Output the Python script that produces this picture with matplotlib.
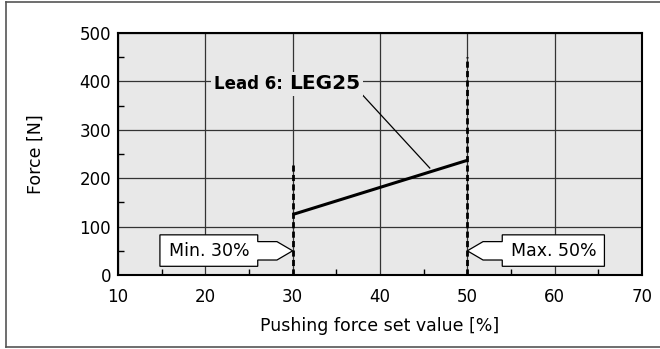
import matplotlib.pyplot as plt
from matplotlib.patches import Polygon
from matplotlib.lines import Line2D

plt.rcParams['font.family'] = ['DejaVu Sans']

# pushing force set value [%] vs force [N], lead 6 (LEG25)
set_value = [30, 50]
force = [125, 237]
min_pct = 30
max_pct = 50
min_top = 230
max_top = 450
x_ticks = [10, 20, 30, 40, 50, 60, 70]
y_ticks = [0, 100, 200, 300, 400, 500]

fig = plt.figure(figsize=(6.6, 3.49), dpi=100)
ax = fig.add_axes([0.1788, 0.212, 0.7939, 0.6934])
ax.set_facecolor('#e8e8e8')
ax.set_xlim(10, 70)
ax.set_ylim(0, 500)
ax.set_xticks(x_ticks)
ax.set_yticks(y_ticks)
ax.set_xticks(range(15, 70, 10), minor=True)
ax.set_yticks(range(50, 500, 100), minor=True)
ax.tick_params(which='major', length=0, labelsize=12)
ax.tick_params(axis='x', which='major', pad=9)
ax.tick_params(axis='y', which='major', pad=5)
ax.tick_params(which='minor', direction='in', length=4, width=1)
ax.grid(True, which='major', color='#333333', linewidth=0.9)
for s in ax.spines.values():
    s.set_linewidth(1.5)
ax.set_xlabel('Pushing force set value [%]', fontsize=12.5, labelpad=8)
ax.set_ylabel('Force [N]', fontsize=12.5, labelpad=25)

# limits of the set value
ax.plot([min_pct, min_pct], [0, min_top], color='black', lw=2, ls=(0, (2.2, 1.2)))
ax.plot([max_pct, max_pct], [0, max_top], color='black', lw=2, ls=(0, (2.2, 1.2)))

ax.plot(set_value, force, color='black', lw=2.2, solid_capstyle='butt')

# label with leader line
ax.plot([38.0, 45.7], [372, 221], color='black', lw=0.9)
bg = dict(facecolor='#e8e8e8', edgecolor='none', pad=2)
t1 = ax.text(21.0, 395, 'Lead 6: ', fontsize=12, fontweight='bold', ha='left',
             va='center', bbox=bg)
ax.annotate('LEG25', xy=(1, 0.5), xycoords=t1, fontsize=14.5, fontweight='bold',
            ha='left', va='center', bbox=bg)

# callout flags for the limits
def flag(tip_x, direction, box_end, label):
    # direction +1: box on the left pointing right, -1: box on the right pointing left
    neck = tip_x - direction * 1.8
    box_in = tip_x - direction * 4.0
    pts = [(tip_x, 50), (neck, 69), (box_in, 69), (box_in, 83), (box_end, 83),
           (box_end, 18), (box_in, 18), (box_in, 31), (neck, 31)]
    ax.add_patch(Polygon(pts, closed=True, facecolor='white', edgecolor='black',
                         lw=0.9, zorder=4))
    ax.text((box_in + box_end) / 2, 50, label, fontsize=12.5, ha='center',
            va='center', zorder=5)

flag(min_pct, 1, 14.8, 'Min. 30%')
flag(max_pct, -1, 65.7, 'Max. 50%')

# outer frame
frame = dict(color='#555555', lw=1.2, transform=fig.transFigure)
fig.add_artist(Line2D([0.009, 1.0], [0.994, 0.994], **frame))
fig.add_artist(Line2D([0.009, 0.009], [0.006, 0.994], **frame))
fig.add_artist(Line2D([0.009, 1.0], [0.006, 0.006], **frame))

fig.savefig('out.png', dpi=100)
